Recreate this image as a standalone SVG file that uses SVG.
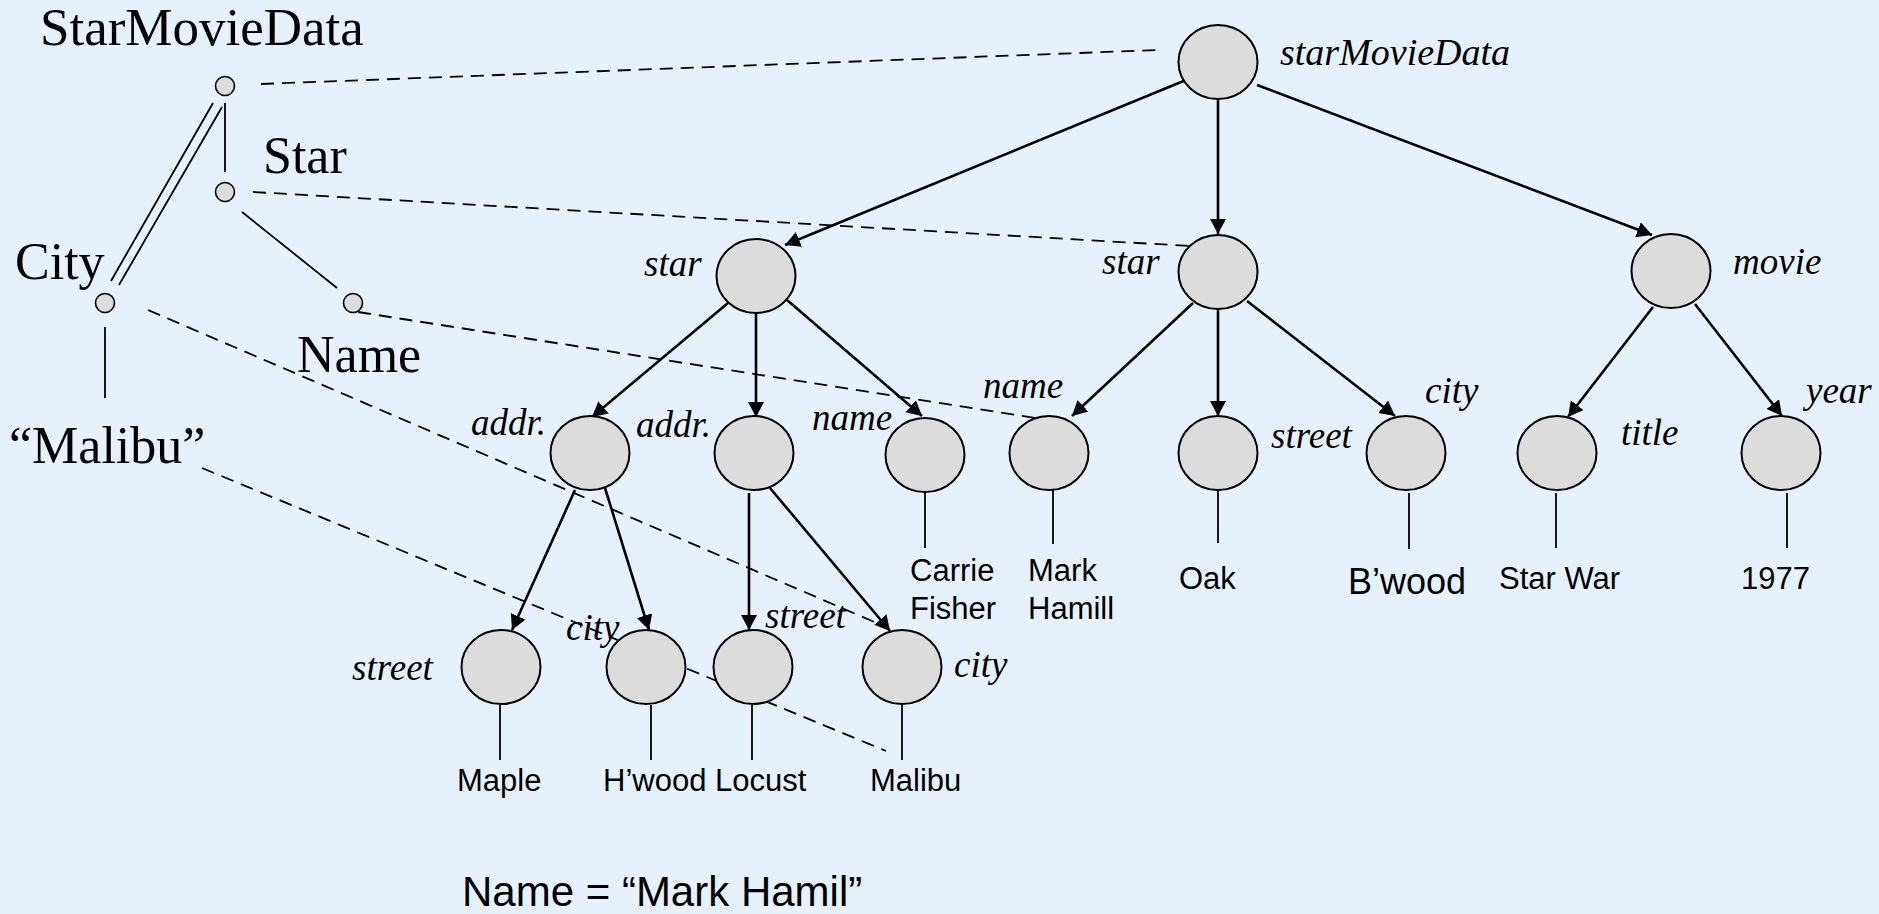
<svg xmlns="http://www.w3.org/2000/svg" width="1879" height="914" viewBox="0 0 1879 914">
<style>
.n{fill:#dcdcdc;stroke:#000;stroke-width:2}
.sc{fill:#dcdcdc;stroke:#000;stroke-width:1.6}
.a{stroke:#000;stroke-width:2.6;fill:none;marker-end:url(#ah)}
.l{stroke:#000;stroke-width:1.8;fill:none}
.d{stroke:#000;stroke-width:1.8;fill:none;stroke-dasharray:13 8}
.it{font-family:"Liberation Serif","Times New Roman",serif;font-style:italic;font-size:37px;fill:#000}
.sv{font-family:"Liberation Serif","Times New Roman",serif;font-size:52px;fill:#000}
.v{font-family:"Liberation Sans",Arial,sans-serif;font-size:31px;fill:#000}
</style>
<defs>
<marker id="ah" markerUnits="userSpaceOnUse" markerWidth="17" markerHeight="17" refX="15" refY="8" orient="auto" viewBox="0 0 17 17">
<path d="M0,0 L15,8 L0,16 z" fill="#000"/>
</marker>
</defs>
<rect x="0" y="0" width="1879" height="914" fill="#e7f1fb"/>

<g id="schema">
<text class="sv" x="40" y="45" style="font-size:53px">StarMovieData</text>
<text class="sv" x="263" y="173">Star</text>
<text class="sv" x="15" y="279">City</text>
<text class="sv" x="297" y="372">Name</text>
<text class="sv" x="9" y="463">“Malibu”</text>
<line class="l" x1="225" y1="103" x2="225" y2="172"/>
<line class="l" x1="213" y1="103" x2="111" y2="281"/>
<line class="l" x1="222" y1="107" x2="119" y2="285"/>
<line class="l" x1="242" y1="212" x2="337" y2="288"/>
<line class="l" x1="105" y1="327" x2="105" y2="398"/>
<circle class="sc" cx="225" cy="86" r="9.5"/>
<circle class="sc" cx="225" cy="192" r="9.5"/>
<circle class="sc" cx="105" cy="303" r="9.5"/>
<circle class="sc" cx="353" cy="303" r="9.5"/>
</g>

<g id="connectors">
<line class="d" x1="261" y1="84" x2="1158" y2="50"/>
<line class="d" x1="253" y1="192" x2="1190" y2="246"/>
<line class="d" x1="358" y1="312" x2="1035" y2="418"/>
<line class="d" x1="148" y1="310" x2="886" y2="627"/>
<line class="d" x1="202" y1="468" x2="886" y2="751"/>

<line class="a" x1="1186" y1="80" x2="785" y2="245"/>
<line class="a" x1="1218" y1="99" x2="1218" y2="234"/>
<line class="a" x1="1257" y1="85" x2="1652" y2="235"/>
<line class="a" x1="728" y1="303" x2="592" y2="417"/>
<line class="a" x1="756" y1="313" x2="756" y2="417"/>
<line class="a" x1="787" y1="300" x2="922" y2="416"/>
<line class="a" x1="1193" y1="303" x2="1072" y2="416"/>
<line class="a" x1="1218" y1="309" x2="1218" y2="416"/>
<line class="a" x1="1247" y1="301" x2="1395" y2="416"/>
<line class="a" x1="1653" y1="307" x2="1568" y2="417"/>
<line class="a" x1="1695" y1="304" x2="1782" y2="416"/>
<line class="a" x1="575" y1="490" x2="512" y2="630"/>
<line class="a" x1="605" y1="488" x2="649" y2="630"/>
<line class="a" x1="749" y1="493" x2="749" y2="630"/>
<line class="a" x1="770" y1="488" x2="890" y2="631"/>

<line class="l" x1="925" y1="493" x2="925" y2="548"/>
<line class="l" x1="1053" y1="490" x2="1053" y2="544"/>
<line class="l" x1="1218" y1="490" x2="1218" y2="543"/>
<line class="l" x1="1409" y1="493" x2="1409" y2="549"/>
<line class="l" x1="1556" y1="493" x2="1556" y2="548"/>
<line class="l" x1="1787" y1="493" x2="1787" y2="548"/>
<line class="l" x1="500" y1="705" x2="500" y2="760"/>
<line class="l" x1="651" y1="705" x2="651" y2="760"/>
<line class="l" x1="752" y1="705" x2="752" y2="760"/>
<line class="l" x1="902" y1="705" x2="902" y2="760"/>
</g>

<g id="root"><ellipse class="n" cx="1218" cy="62" rx="39.5" ry="37"/><text class="it" x="1280" y="65" style="font-size:38px">starMovieData</text></g>
<g id="star1"><ellipse class="n" cx="756" cy="276" rx="39.5" ry="37"/><text class="it" x="644" y="276">star</text></g>
<g id="star2"><ellipse class="n" cx="1218" cy="272" rx="39.5" ry="37"/><text class="it" x="1102" y="274">star</text></g>
<g id="movie"><ellipse class="n" cx="1671" cy="271" rx="39.5" ry="37"/><text class="it" x="1733" y="274">movie</text></g>

<g id="addr1"><ellipse class="n" cx="590" cy="453" rx="39.5" ry="37"/><text class="it" x="471" y="435">addr.</text></g>
<g id="addr2"><ellipse class="n" cx="754" cy="453" rx="39.5" ry="37"/><text class="it" x="636" y="437">addr.</text></g>
<g id="name1"><ellipse class="n" cx="925" cy="455" rx="39.5" ry="37"/><text class="it" x="812" y="430">name</text><text class="v" x="910" y="581">Carrie</text><text class="v" x="910" y="619">Fisher</text></g>
<g id="name2"><ellipse class="n" cx="1049" cy="453" rx="39.5" ry="37"/><text class="it" x="983" y="398">name</text><text class="v" x="1028" y="581">Mark</text><text class="v" x="1028" y="619">Hamill</text></g>
<g id="street2"><ellipse class="n" cx="1218" cy="453" rx="39.5" ry="37"/><text class="it" x="1271" y="448">street</text><text class="v" x="1179" y="589">Oak</text></g>
<g id="city2"><ellipse class="n" cx="1406" cy="453" rx="39.5" ry="37"/><text class="it" x="1425" y="403">city</text><text class="v" x="1348" y="594" style="font-size:36px">B’wood</text></g>
<g id="title"><ellipse class="n" cx="1557" cy="453" rx="39.5" ry="37"/><text class="it" x="1621" y="445">title</text><text class="v" x="1499" y="589">Star War</text></g>
<g id="year"><ellipse class="n" cx="1781" cy="453" rx="39.5" ry="37"/><text class="it" x="1806" y="403">year</text><text class="v" x="1741" y="589">1977</text></g>

<g id="street1a"><ellipse class="n" cx="501" cy="667" rx="39.5" ry="37"/><text class="it" x="352" y="680">street</text><text class="v" x="457" y="791">Maple</text></g>
<g id="city1a"><ellipse class="n" cx="646" cy="667" rx="39.5" ry="37"/><text class="it" x="566" y="640">city</text><text class="v" x="603" y="791">H’wood</text></g>
<g id="street1b"><ellipse class="n" cx="753" cy="667" rx="39.5" ry="37"/><text class="it" x="765" y="628">street</text><text class="v" x="715" y="791">Locust</text></g>
<g id="city1b"><ellipse class="n" cx="902" cy="667" rx="39.5" ry="37"/><text class="it" x="954" y="677">city</text><text class="v" x="870" y="791">Malibu</text></g>

<g id="query"><text class="v" x="462" y="906" style="font-size:42px">Name = “Mark Hamil”</text></g>
</svg>
